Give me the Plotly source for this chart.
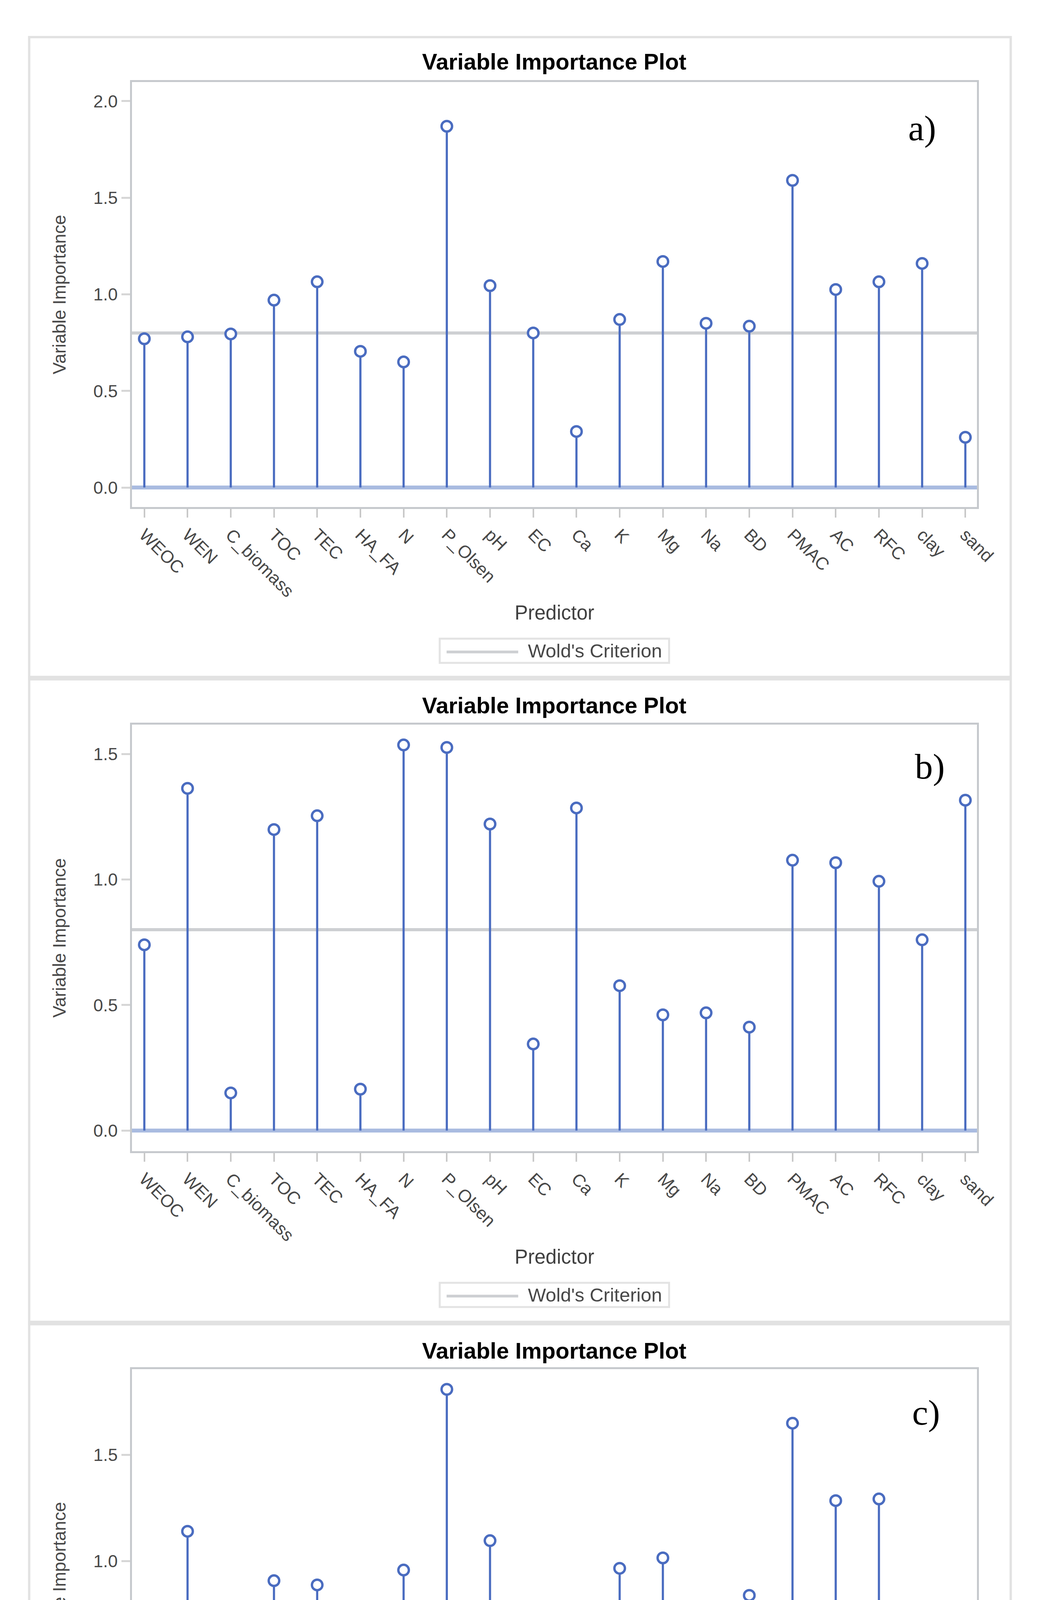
import plotly.graph_objects as go

# ---------------- data ----------------
predictors = ["WEOC", "WEN", "C_biomass", "TOC", "TEC", "HA_FA", "N", "P_Olsen", "pH", "EC",
              "Ca", "K", "Mg", "Na", "BD", "PMAC", "AC", "RFC", "clay", "sand"]

vip_a = [0.77, 0.78, 0.795, 0.97, 1.065, 0.705, 0.65, 1.87, 1.045, 0.80,
         0.29, 0.87, 1.17, 0.85, 0.835, 1.59, 1.025, 1.065, 1.16, 0.26]
vip_b = [0.74, 1.363, 0.15, 1.199, 1.254, 0.165, 1.536, 1.526, 1.221, 0.345,
         1.285, 0.577, 0.461, 0.469, 0.412, 1.077, 1.067, 0.993, 0.76, 1.316]
vip_c = [0.613, 1.14, 0.639, 0.908, 0.888, 0.544, 0.958, 1.807, 1.096, 0.606,
         0.72, 0.966, 1.015, 0.671, 0.839, 1.648, 1.284, 1.292, 0.588, 0.489]

wold_criterion = 0.8
panel_labels = ["a)", "b)", "c)"]
yticks_a = [0.0, 0.5, 1.0, 1.5, 2.0]
yticks_bc = [0.0, 0.5, 1.0, 1.5]

title_text = "Variable Importance Plot"
x_title = "Predictor"
y_title = "Variable Importance"
legend_text = "Wold's Criterion"

# ---------------- layout geometry (pixels) ----------------
W, H = 2707, 5092
PX_LEFT, PX_RIGHT = 336, 2543
panels = [
    dict(vals=vip_a, top=202, bottom=1290, yr=[-0.101, 2.099], ticks=yticks_a,
         outer=(87, 1725), title_y=150, lab=(2400, 320)),
    dict(vals=vip_b, top=1847, bottom=2939, yr=[-0.082, 1.617], ticks=yticks_bc,
         outer=(1731, 3376), title_y=1797, lab=(2420, 1954)),
    dict(vals=vip_c, top=3497, bottom=4585, yr=[-0.095, 1.902], ticks=yticks_bc,
         outer=(3382, 5020), title_y=3449, lab=(2410, 3608)),
]

STEM = "#4a6cc0"
BASE = "#a9bbe0"
WOLD = "#cdcfd2"
FRAME = "#c6c9cd"
TXT = "#484848"
SANS = "Liberation Sans, Arial, sans-serif"


def py(p):
    return 1 - p / H


def px(p):
    return p / W


fig = go.Figure()
shapes = []
annotations = []
layout = dict(width=W, height=H, margin=dict(l=0, r=0, t=0, b=0),
              paper_bgcolor="white", plot_bgcolor="white", showlegend=False)

for i, pn in enumerate(panels, start=1):
    xa = "x" if i == 1 else f"x{i}"
    ya = "y" if i == 1 else f"y{i}"
    xkey = "xaxis" if i == 1 else f"xaxis{i}"
    ykey = "yaxis" if i == 1 else f"yaxis{i}"

    # stems
    sx, sy = [], []
    for p, v in zip(predictors, pn["vals"]):
        sx += [p, p, None]
        sy += [0, v, None]
    fig.add_trace(go.Scatter(x=sx, y=sy, mode="lines", xaxis=xa, yaxis=ya,
                             line=dict(color=STEM, width=5.5), hoverinfo="skip"))
    # markers
    fig.add_trace(go.Scatter(x=predictors, y=pn["vals"], mode="markers", xaxis=xa, yaxis=ya,
                             marker=dict(symbol="circle", size=27, color="white",
                                         line=dict(color=STEM, width=6))))

    layout[xkey] = dict(
        domain=[px(PX_LEFT), px(PX_RIGHT)], anchor=ya,
        type="category", categoryorder="array", categoryarray=predictors,
        range=[-0.29, 19.27], tickangle=45,
        ticks="outside", ticklen=22, tickwidth=4, tickcolor="#c8c8c8",
        showline=True, mirror=True, linecolor=FRAME, linewidth=5,
        showgrid=False, zeroline=False,
        tickfont=dict(family=SANS, size=45, color=TXT),
    )
    layout[ykey] = dict(
        domain=[py(pn["bottom"]), py(pn["top"])], anchor=xa,
        range=pn["yr"], tickvals=pn["ticks"], tickformat=".1f",
        ticks="outside", ticklen=22, tickwidth=5, tickcolor="#d6d6d6",
        showline=True, mirror=True, linecolor=FRAME, linewidth=5,
        showgrid=False, zeroline=False,
        tickfont=dict(family=SANS, size=45, color=TXT),
    )

    # baseline and Wold's criterion line
    shapes.append(dict(type="line", xref=f"{xa} domain", yref=ya, x0=0, x1=1,
                       y0=0, y1=0, line=dict(color=BASE, width=10), layer="below"))
    shapes.append(dict(type="line", xref=f"{xa} domain", yref=ya, x0=0, x1=1,
                       y0=wold_criterion, y1=wold_criterion,
                       line=dict(color=WOLD, width=8), layer="below"))

    # outer panel frame
    shapes.append(dict(type="rect", xref="paper", yref="paper",
                       x0=px(68), x1=px(2631), y0=py(pn["outer"][1]), y1=py(pn["outer"][0]),
                       line=dict(color="#e2e2e2", width=6), layer="below"))

    # title
    annotations.append(dict(text=f"<b>{title_text}</b>", xref="paper", yref="paper",
                            x=px((PX_LEFT + PX_RIGHT) / 2), y=py(pn["title_y"]),
                            xanchor="center", yanchor="middle", showarrow=False,
                            font=dict(family=SANS, size=58, color="black")))
    # axis titles
    annotations.append(dict(text=x_title, xref="paper", yref="paper",
                            x=px((PX_LEFT + PX_RIGHT) / 2), y=py(pn["bottom"] + 270),
                            xanchor="center", yanchor="middle", showarrow=False,
                            font=dict(family=SANS, size=51, color="#404040")))
    annotations.append(dict(text=y_title, xref="paper", yref="paper", textangle=-90,
                            x=px(147), y=py((pn["top"] + pn["bottom"]) / 2),
                            xanchor="center", yanchor="middle", showarrow=False,
                            font=dict(family=SANS, size=46, color=TXT)))
    # panel letter
    annotations.append(dict(text=panel_labels[i - 1], xref="paper", yref="paper",
                            x=px(pn["lab"][0]), y=py(pn["lab"][1]),
                            xanchor="center", yanchor="middle", showarrow=False,
                            font=dict(family="Liberation Serif, serif", size=92, color="black")))

    # legend (drawn manually)
    ly = pn["bottom"] + 368
    shapes.append(dict(type="rect", xref="paper", yref="paper",
                       x0=px(1140), x1=px(1739), y0=py(ly + 31), y1=py(ly - 31),
                       line=dict(color="#e3e3e3", width=5), fillcolor="white"))
    shapes.append(dict(type="line", xref="paper", yref="paper",
                       x0=px(1158), x1=px(1345), y0=py(ly + 3), y1=py(ly + 3),
                       line=dict(color=WOLD, width=7)))
    annotations.append(dict(text=legend_text, xref="paper", yref="paper",
                            x=px(1368), y=py(ly), xanchor="left", yanchor="middle",
                            showarrow=False, font=dict(family=SANS, size=49, color=TXT)))

layout["shapes"] = shapes
layout["annotations"] = annotations
fig.update_layout(**layout)
fig.write_html("out.html")
